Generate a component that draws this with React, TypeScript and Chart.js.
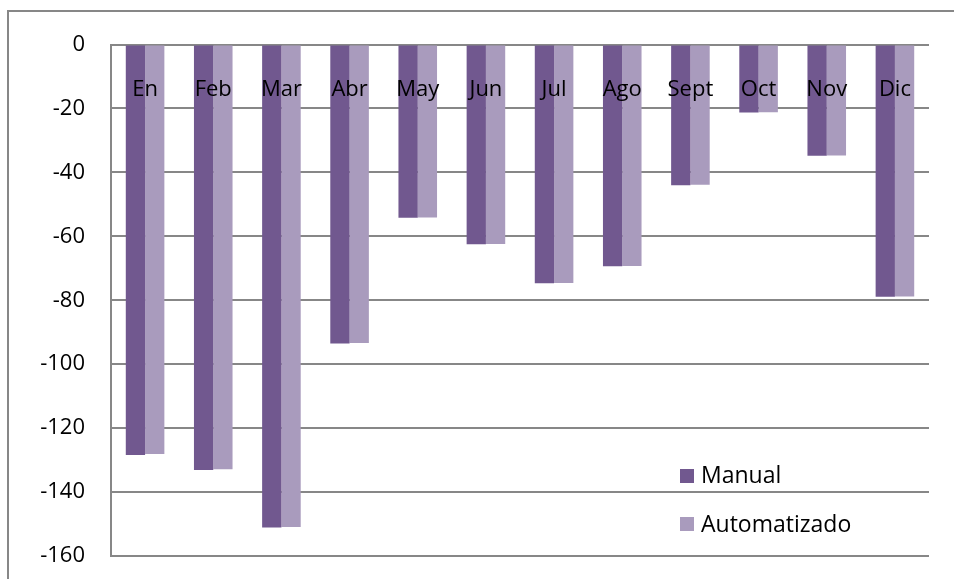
import { useEffect, useRef } from 'react';
import { Chart, registerables } from 'chart.js';

Chart.register(...registerables);

// Monthly categories and the two series (negative balances)
const months = ['En', 'Feb', 'Mar', 'Abr', 'May', 'Jun', 'Jul', 'Ago', 'Sept', 'Oct', 'Nov', 'Dic'];
const manual = [-128.4, -133.1, -151.1, -93.5, -54.2, -62.5, -74.7, -69.4, -44.0, -21.3, -34.8, -78.9];
const automatizado = [-128.1, -132.9, -150.9, -93.4, -54.1, -62.4, -74.6, -69.3, -43.9, -21.2, -34.7, -78.8];
const seriesNames = ['Manual', 'Automatizado'];
const seriesColors = ['#71588F', '#A99BBD'];
const yMin = -160;
const yMax = 0;
const yStep = 20;

const FONT = "'Open Sans', 'Liberation Sans', sans-serif";
const GRID = '#878787';

export default function App() {
  const canvasRef = useRef<HTMLCanvasElement>(null);

  useEffect(() => {
    const canvas = canvasRef.current;
    if (!canvas) return;
    const chart = new Chart(canvas, {
      type: 'bar',
      data: {
        labels: months,
        datasets: [
          {
            label: seriesNames[0],
            data: manual,
            backgroundColor: seriesColors[0],
            categoryPercentage: 0.566,
            barPercentage: 1,
          },
          {
            label: seriesNames[1],
            data: automatizado,
            backgroundColor: seriesColors[1],
            categoryPercentage: 0.566,
            barPercentage: 1,
          },
        ],
      },
      options: {
        animation: false,
        responsive: false,
        layout: { padding: { left: 0, top: 14.5, right: 25, bottom: 23 } },
        plugins: {
          legend: { display: false },
          tooltip: { enabled: false },
        },
        scales: {
          x: {
            position: 'top',
            grid: { display: false },
            border: { display: false },
            ticks: {
              z: 1,
              mirror: true,
              padding: 32,
              color: '#000',
              autoSkip: false,
              maxRotation: 0,
              font: { family: FONT, size: 22 },
            },
            // category labels sit inside the plot, so the axis band stays thin
            afterFit: (scale: any) => {
              scale.height = 30;
            },
          },
          y: {
            min: yMin,
            max: yMax,
            grid: { color: GRID, lineWidth: 2, drawTicks: false },
            border: { color: GRID, width: 2 },
            ticks: {
              stepSize: yStep,
              padding: 26,
              color: '#000',
              font: { family: FONT, size: 22 },
            },
            afterFit: (scale: any) => {
              scale.width = 111;
              scale.paddingTop = 0;
              scale.paddingBottom = 0;
            },
          },
        },
      },
    });
    return () => chart.destroy();
  }, []);

  return (
    <div style={{ position: 'absolute', left: 0, top: 0, width: 954, height: 579, overflow: 'hidden', background: '#fff' }}>
      <div
        style={{
          position: 'absolute',
          left: 7,
          top: 10,
          width: 1000,
          height: 700,
          borderTop: `2px solid ${GRID}`,
          borderLeft: `2px solid ${GRID}`,
          boxSizing: 'border-box',
        }}
      />
      <canvas ref={canvasRef} width={954} height={579} style={{ position: 'absolute', left: 0, top: 0, display: 'block' }} />
      {seriesNames.map((name, i) => (
        <div key={name}>
          <div
            style={{
              position: 'absolute',
              left: 680,
              top: 468.5 + i * 48.5,
              width: 14,
              height: 14,
              background: seriesColors[i],
            }}
          />
          <div
            style={{
              position: 'absolute',
              left: 701,
              top: 458 + i * 49,
              fontFamily: FONT,
              fontSize: 23,
              lineHeight: 'normal',
              color: '#000',
              whiteSpace: 'nowrap',
            }}
          >
            {name}
          </div>
        </div>
      ))}
    </div>
  );
}
